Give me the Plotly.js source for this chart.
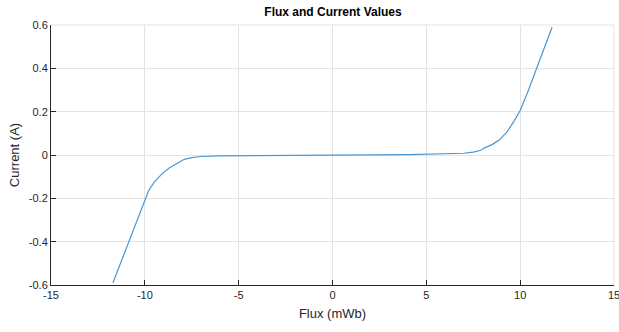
<!DOCTYPE html>
<html>
<head>
<meta charset="utf-8">
<script src="https://cdn.plot.ly/plotly-3.0.1.min.js"></script>
<style>html,body{margin:0;padding:0;background:#fff;}</style>
</head>
<body>
<div id="chart" style="width:619px;height:332px;"></div>
<script>
const flux = [-11.7, -11.3, -10.8, -10.4, -10.0, -9.95, -9.8, -9.5, -9.1, -8.7, -8.2, -7.9, -7.5, -7.0, -6.0, -5.0, -4.0, -2.0, 0, 2.0, 4.0, 5.0, 6.0, 6.5, 7.0, 7.5, 7.9, 8.1, 8.5, 8.9, 9.3, 9.7, 9.95, 10.0, 10.4, 10.8, 11.2, 11.7];
const current = [-0.59, -0.50, -0.39, -0.30, -0.21, -0.195, -0.165, -0.125, -0.088, -0.06, -0.035, -0.02, -0.012, -0.007, -0.004, -0.003, -0.002, -0.001, 0, 0.001, 0.002, 0.003, 0.004, 0.005, 0.008, 0.013, 0.022, 0.033, 0.048, 0.07, 0.107, 0.16, 0.195, 0.205, 0.29, 0.385, 0.48, 0.59];
const xTicks = [-15, -10, -5, 0, 5, 10, 15];
const yTicks = [-0.6, -0.4, -0.2, 0, 0.2, 0.4, 0.6];
const yTickText = ['-0.6', '-0.4', '-0.2', '0', '0.2', '0.4', '0.6'];

const font = {family: 'Liberation Sans, Arial, sans-serif', color: '#262626', size: 11};
const trace = {
  x: flux, y: current, type: 'scatter', mode: 'lines',
  line: {color: '#4a97d4', width: 1.2}, hoverinfo: 'none'
};
const layout = {
  width: 619, height: 332,
  margin: {l: 51, r: 5, t: 25, b: 47, pad: 0},
  paper_bgcolor: '#ffffff', plot_bgcolor: '#ffffff',
  font: font,
  showlegend: false,
  title: {text: '<b>Flux and Current Values</b>', font: {family: 'Liberation Sans, Arial, sans-serif', size: 12, color: '#000000'}, x: 0.538, xanchor: 'center', y: 0.965, yanchor: 'middle'},
  xaxis: {
    range: [-15, 15], tickvals: xTicks, ticktext: xTicks.map(String),
    showgrid: true, gridcolor: '#e3e3e3', gridwidth: 1, zeroline: false,
    showline: true, linecolor: '#262626', linewidth: 1,
    ticks: 'inside', ticklen: 5, tickcolor: '#262626',
    tickfont: font, ticklabeloverflow: 'allow',
    title: {text: 'Flux (mWb)', font: {family: 'Liberation Sans, Arial, sans-serif', size: 13, color: '#262626'}, standoff: 8}
  },
  yaxis: {
    range: [-0.6, 0.6], tickvals: yTicks, ticktext: yTickText,
    showgrid: true, gridcolor: '#e3e3e3', gridwidth: 1, zeroline: false,
    showline: true, linecolor: '#262626', linewidth: 1,
    ticks: 'inside', ticklen: 5, tickcolor: '#262626',
    tickfont: font, ticklabeloverflow: 'allow',
    title: {text: 'Current (A)', font: {family: 'Liberation Sans, Arial, sans-serif', size: 13, color: '#262626'}, standoff: 6}
  },
  shapes: [
    {type: 'line', xref: 'paper', yref: 'paper', x0: 0, x1: 1, y0: 1, y1: 1, line: {color: '#e3e3e3', width: 1}, layer: 'below'},
    {type: 'line', xref: 'paper', yref: 'paper', x0: 1, x1: 1, y0: 0, y1: 1, line: {color: '#e3e3e3', width: 1}, layer: 'below'}
  ]
};
Plotly.newPlot('chart', [trace], layout, {staticPlot: true, displayModeBar: false});
</script>
</body>
</html>
